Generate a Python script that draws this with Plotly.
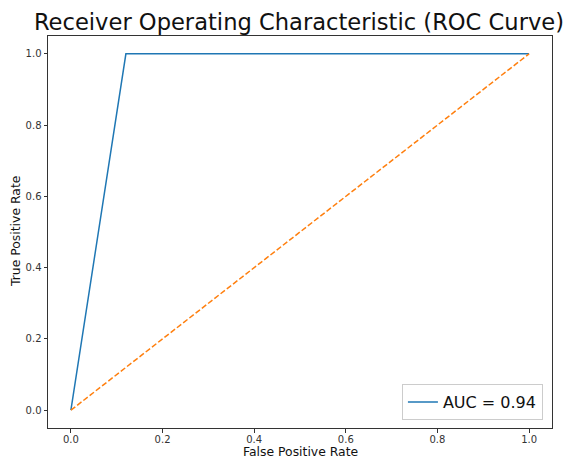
import plotly.graph_objects as go

# ROC curve points
fpr = [0.0, 0.12, 1.0]
tpr = [0.0, 1.0, 1.0]
auc_value = 0.94

# chance diagonal
chance_x = [0.0, 1.0]
chance_y = [0.0, 1.0]

tick_vals = [0.0, 0.2, 0.4, 0.6, 0.8, 1.0]

FONT = "DejaVu Sans"
W, H = 566, 459
M_L, M_R, M_T, M_B = 48, 14, 36, 31
PLOT_W = W - M_L - M_R
PLOT_H = H - M_T - M_B

fig = go.Figure()
fig.add_trace(go.Scatter(
    x=fpr, y=tpr, mode="lines",
    line=dict(color="#1f77b4", width=1.5),
    name=f"AUC = {auc_value:.2f}",
))
fig.add_trace(go.Scatter(
    x=chance_x, y=chance_y, mode="lines",
    line=dict(color="#ff7f0e", width=1.5, dash="5.5px,2.4px"),
    showlegend=False,
))

axis_common = dict(
    showgrid=False, zeroline=False, automargin=False,
    showline=True, linecolor="#333333", linewidth=1, mirror=True,
    ticks="outside", ticklen=3.5, tickwidth=0.8, tickcolor="#333333",
    tickvals=tick_vals, tickformat=".1f",
    tickfont=dict(family=FONT, size=10, color="#333333"),
    range=[-0.05, 1.05],
)

label_font = dict(family=FONT, size=12.4, color="#111111")

fig.update_layout(
    width=W, height=H,
    margin=dict(l=M_L, r=M_R, t=M_T, b=M_B),
    paper_bgcolor="white", plot_bgcolor="white",
    font=dict(family=FONT),
    title=dict(
        text="Receiver Operating Characteristic (ROC Curve)",
        font=dict(family=FONT, size=22.6, color="#111111"),
        x=299 / W, xanchor="center", xref="container",
        y=1 - 22 / H, yanchor="middle", yref="container",
    ),
    xaxis=dict(ticklabelstandoff=-2, **axis_common),
    yaxis=axis_common,
    legend=dict(
        x=0.982, y=0.02, xanchor="right", yanchor="bottom",
        bgcolor="rgba(255,255,255,0.8)", bordercolor="#cccccc", borderwidth=1,
        font=dict(family=FONT, size=16, color="#111111"),
    ),
    showlegend=True,
    annotations=[
        dict(text="False Positive Rate", xref="paper", yref="paper",
             x=0.5, y=0, xanchor="center", yanchor="middle", yshift=-23.5,
             borderpad=0, showarrow=False, font=label_font),
        dict(text="True Positive Rate", xref="paper", yref="paper",
             x=-33 / PLOT_W, y=0.5, xanchor="center", yanchor="middle",
             borderpad=0, textangle=-90, showarrow=False, font=label_font),
    ],
)

fig.write_html("out.html")
